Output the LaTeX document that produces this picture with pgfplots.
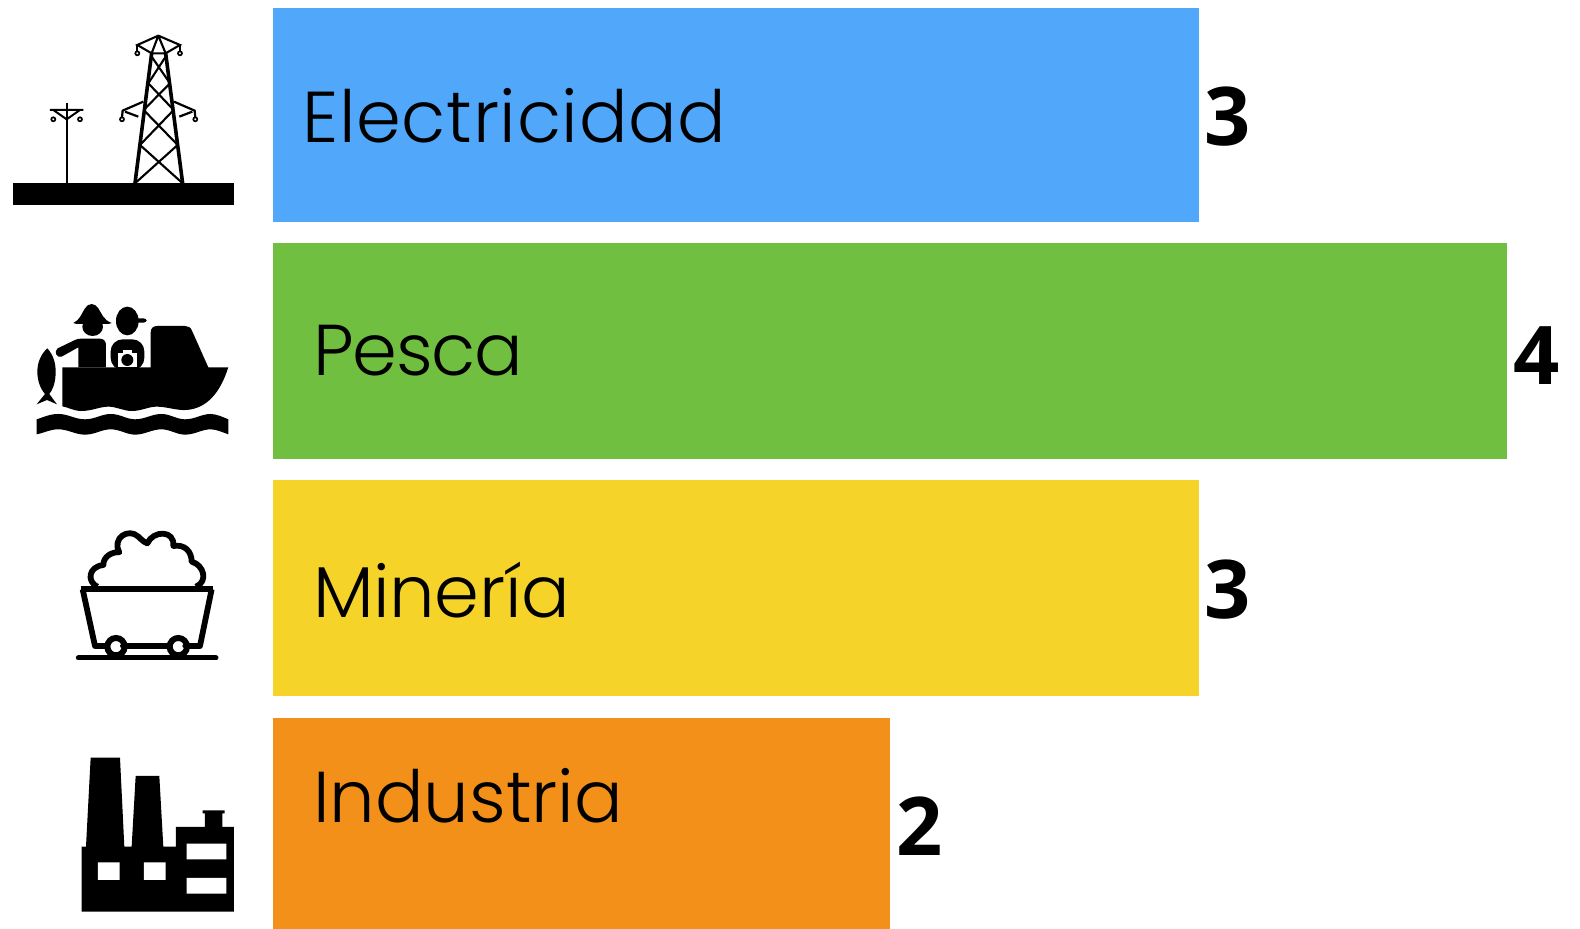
\documentclass[border=0pt]{standalone}
\usepackage{fontspec}
\usepackage{pgfplots}
\pgfplotsset{compat=1.18}
\setmainfont{Poppins Light}
\newfontfamily\numfam{Open Sans}
\newcommand{\labfont}{\fontsize{72}{72}\selectfont}
\newcommand{\numfont}{\numfam\bfseries\fontsize{81}{81}\selectfont}
\definecolor{cblue}{HTML}{51A7F9}
\definecolor{cgreen}{HTML}{70BF41}
\definecolor{cyellow}{HTML}{F5D328}
\definecolor{corange}{HTML}{F39019}
\begin{document}
\begin{tikzpicture}[x=1pt,y=1pt]
\useasboundingbox (0,0) rectangle (1580pt,929pt);
\begin{axis}[
  at={(0pt,0pt)},anchor=south west,
  scale only axis,width=1580pt,height=929pt,
  hide axis,xmin=-0.8865,xmax=4.2366,ymin=0,ymax=929,y dir=reverse,
  xbar,bar shift=0pt,point meta=x,
  nodes near coords,
  every node near coord/.append style={font=\numfont,text=black,inner sep=0pt,anchor=west,xshift=6pt,yshift=-2pt,
    /pgf/number format/assume math mode=true},
]
\addplot[fill=cblue,draw=none,bar width=214pt] coordinates {(3,115)};
\addplot[fill=cgreen,draw=none,bar width=216pt,every node near coord/.append style={yshift=-3pt}] coordinates {(4,351)};
\addplot[fill=cyellow,draw=none,bar width=216pt] coordinates {(3,588)};
\addplot[fill=corange,draw=none,bar width=211pt,every node near coord/.append style={yshift=-1pt}] coordinates {(2,823.5)};
\end{axis}
\begin{scope}[shift={(0,929)},x=1pt,y=-1pt]
\node[anchor=base west,inner sep=0pt,font=\labfont] at (302,143) {\addfontfeatures{LetterSpace=1}Electricidad};
\node[anchor=base west,inner sep=0pt,font=\labfont] at (313,376) {\addfontfeatures{LetterSpace=-1.7}Pesca};
\node[anchor=base west,inner sep=0pt,font=\labfont] at (313,618) {\addfontfeatures{LetterSpace=-0.5}Minería};
\node[anchor=base west,inner sep=0pt,font=\labfont] at (313,823) {Industria};
\end{scope}
% tower icon
\begin{scope}[shift={(0pt,909pt)},x=0.3333pt,y=-0.3333pt,line join=miter]
\fill (38,490) rectangle (702,556);
\draw[line width=2.2pt] (200,248)--(200,490);
\draw[line width=2pt] (150,270)--(250,270) (160,270)--(200,298)--(240,270);
\draw[line width=1.7pt,fill=white] (160,298) circle (6) (240,298) circle (6);
\draw[line width=3.6pt] (405,490)--(455,100) (548,490)--(497,100);
\draw[line width=2.1pt] (405,490)--(533,375) (548,490)--(420,375) (420,375)--(521,270) (533,375)--(431,270)
  (431,270)--(510,190) (521,270)--(445,190) (445,190)--(497,110) (510,190)--(455,110);
\draw[line width=2.1pt] (475,47)--(412,75)--(455,100)--(497,100)--(540,75)--cycle (475,47)--(455,100) (475,47)--(497,100);
\draw[line width=1.7pt,fill=white] (412,100) circle (6) (540,100) circle (6);
\draw[line width=1.7pt] (412,75)--(412,94) (540,75)--(540,94);
\draw[line width=2.2pt] (430,245)--(368,272)--(366,292) (522,245)--(584,272)--(586,292);
\draw[line width=2.2pt] (375,275)--(415,290) (577,275)--(538,290);
\draw[line width=1.7pt,fill=white] (366,298) circle (6) (586,298) circle (6);
\end{scope}
% boat icon
\begin{scope}[shift={(20pt,639pt)},x=0.3333pt,y=-0.3333pt]
\fill (127,232)--(392,232)--(392,128) .. controls (392,114) and (400,108) .. (412,108)--(495,108)
  .. controls (505,108) and (512,112) .. (516,122)--(565,232)--(625,232)
  .. controls (600,310) and (560,355) .. (500,360)
  .. controls (470,362) and (440,350) .. (410,350) .. controls (385,350) and (365,363) .. (335,363)
  .. controls (310,363) and (290,350) .. (265,350) .. controls (240,350) and (215,363) .. (185,363)
  .. controls (160,363) and (145,352) .. (127,349) --cycle;
\fill (218,110) ellipse [x radius=31,y radius=28];
\fill (160,99) .. controls (180,90) and (185,70) .. (195,55) .. controls (205,38) and (225,38) .. (235,55) .. controls (245,70) and (250,90) .. (275,99) -- (265,102)--(170,102)--cycle;
\fill (175,232)--(175,172)--(125,200) .. controls (110,205) and (100,185) .. (113,175)--(165,150) .. controls (172,147) and (175,146) .. (185,146)--(240,146) .. controls (252,146) and (258,155) .. (258,165)--(258,232)--cycle;
\fill (322,93) ellipse [x radius=34,y radius=43];
\fill[rounded corners=3pt] (340,85) rectangle (380,98);
\fill[rounded corners=12pt] (272,240)--(272,148)--(373,148)--(373,240)--cycle;
\fill[white] (293,188) rectangle (352,232);
\fill[white] (308,180) rectangle (336,190);
\fill (322,210) circle (18);
\fill (82,175) .. controls (100,195) and (108,220) .. (107,250) .. controls (106,280) and (98,300) .. (88,312)
  -- (111,343) -- (81,330) -- (50,343) -- (75,312) .. controls (60,295) and (52,270) .. (52,245) .. controls (52,215) and (65,190) .. (82,175) --cycle;
\fill (50,388) .. controls (75,380) and (90,372) .. (115,372) .. controls (145,372) and (165,388) .. (195,388)
  .. controls (225,388) and (245,372) .. (272,372) .. controls (300,372) and (320,388) .. (345,388)
  .. controls (375,388) and (395,372) .. (425,372) .. controls (450,372) and (470,388) .. (495,388)
  .. controls (525,388) and (545,372) .. (572,372) .. controls (590,372) and (610,382) .. (625,388)
  -- (625,433) .. controls (610,428) and (590,418) .. (572,418) .. controls (545,418) and (525,434) .. (495,434)
  .. controls (470,434) and (450,418) .. (425,418) .. controls (395,418) and (375,434) .. (345,434)
  .. controls (320,434) and (300,418) .. (272,418) .. controls (245,418) and (225,434) .. (195,434)
  .. controls (165,434) and (145,418) .. (115,418) .. controls (90,418) and (75,428) .. (50,433) --cycle;
\end{scope}
% cart icon
\begin{scope}[shift={(60pt,409pt)},x=0.3333pt,y=-0.3333pt]
\draw[line width=5.8pt,line join=round] (112,200) .. controls (80,185) and (85,140) .. (130,135)
  .. controls (130,110) and (155,95) .. (178,97)
  .. controls (155,55) and (205,22) .. (235,50)
  .. controls (245,60) and (255,68) .. (262,70)
  .. controls (280,30) and (345,30) .. (340,78)
  .. controls (375,72) and (395,95) .. (395,125)
  .. controls (432,135) and (445,185) .. (408,200);
\draw[line width=5.8pt,line join=round] (62,208)--(460,208);
\draw[line width=5.8pt,line join=round] (68,208)--(105,378)--(420,378)--(455,208);
\draw[line width=5pt,line cap=round] (55,414)--(468,414);
\draw[line width=6pt,fill=white] (168,380) circle (26) (355,380) circle (26);
\fill (186,378) circle (6) (373,378) circle (6);
\end{scope}
% factory icon
\begin{scope}[shift={(60pt,184pt)},x=0.3333pt,y=-0.3333pt]
\fill (65,500)--(65,305)--(78,305)--(92,38)--(180,38)--(193,305)--(215,305)--(227,93)--(298,93)--(310,305)--(348,305)--(348,246)--(435,246)--(435,205)--(428,205)--(428,196)--(494,196)--(494,205)--(487,205)--(487,246)--(522,246)--(522,500)--cycle;
\fill[white] (114,352) rectangle (179,405) (252,352) rectangle (317,405) (380,296) rectangle (499,343) (380,399) rectangle (499,446);
\end{scope}
\end{tikzpicture}
\end{document}
